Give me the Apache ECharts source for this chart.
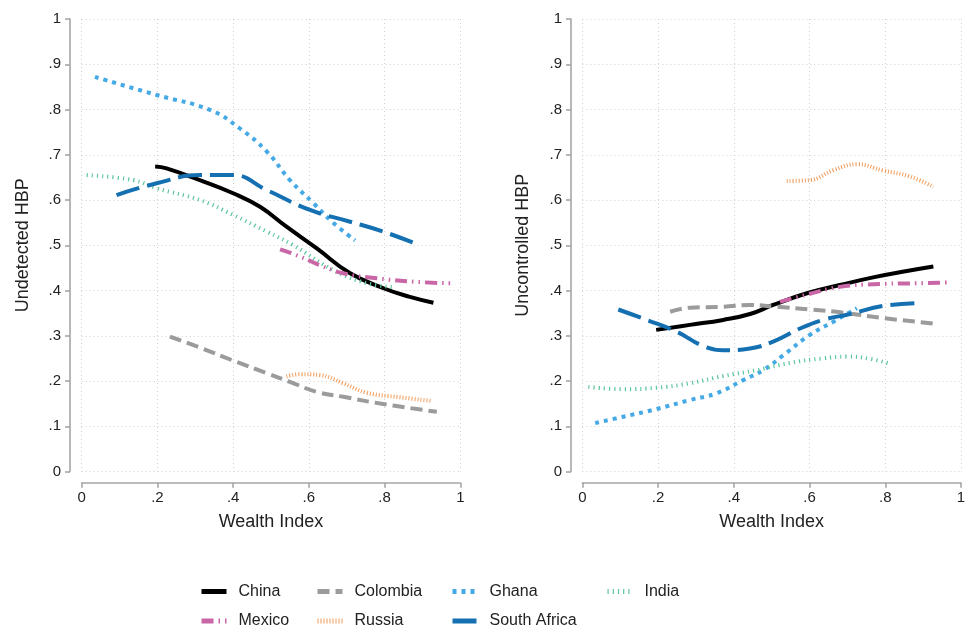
<!DOCTYPE html>
<html>
<head>
<meta charset="utf-8">
<script src="https://cdn.jsdelivr.net/npm/echarts@6/dist/echarts.min.js"></script>
<style>
  html, body { margin: 0; padding: 0; background: #fff; }
  #chart { width: 971px; height: 628px; }
</style>
</head>
<body>
<div id="chart"></div>
<script>
// Wealth index (x) vs. share with undetected / uncontrolled high blood pressure (y)
const countries = ['China', 'Colombia', 'Ghana', 'India', 'Mexico', 'Russia', 'South Africa'];
const xTicks = [0, 0.2, 0.4, 0.6, 0.8, 1];
const yTicks = [0, 0.1, 0.2, 0.3, 0.4, 0.5, 0.6, 0.7, 0.8, 0.9, 1];

// Panel 1: Undetected HBP
const chinaUndetected = [[0.194,0.674],[0.224,0.670],[0.312,0.644],[0.40,0.615],[0.471,0.585],[0.541,0.541],[0.621,0.493],[0.709,0.438],[0.797,0.405],[0.867,0.386],[0.929,0.373]];
const colombiaUndetected = [[0.233,0.298],[0.312,0.274],[0.40,0.245],[0.489,0.217],[0.55,0.198],[0.621,0.176],[0.691,0.165],[0.797,0.149],[0.938,0.132]];
const ghanaUndetected = [[0.035,0.872],[0.198,0.832],[0.339,0.799],[0.418,0.758],[0.489,0.707],[0.550,0.644],[0.612,0.593],[0.665,0.549],[0.722,0.511]];
const indiaUndetected = [[0.013,0.655],[0.136,0.644],[0.198,0.626],[0.312,0.600],[0.40,0.567],[0.489,0.530],[0.559,0.500],[0.665,0.445],[0.753,0.416],[0.819,0.408]];
const mexicoUndetected = [[0.524,0.491],[0.577,0.475],[0.629,0.456],[0.691,0.438],[0.779,0.427],[0.885,0.419],[0.977,0.416]];
const russiaUndetected = [[0.541,0.210],[0.577,0.215],[0.629,0.213],[0.691,0.195],[0.753,0.174],[0.841,0.164],[0.924,0.156]];
const southAfricaUndetected = [[0.092,0.611],[0.198,0.637],[0.312,0.655],[0.40,0.655],[0.489,0.622],[0.603,0.578],[0.709,0.552],[0.797,0.530],[0.893,0.500]];

// Panel 2: Uncontrolled HBP
const chinaUncontrolled = [[0.195,0.313],[0.284,0.324],[0.372,0.335],[0.443,0.348],[0.504,0.368],[0.593,0.394],[0.680,0.412],[0.768,0.429],[0.857,0.443],[0.927,0.453]];
const colombiaUncontrolled = [[0.232,0.353],[0.284,0.362],[0.372,0.364],[0.443,0.368],[0.513,0.364],[0.601,0.358],[0.689,0.351],[0.795,0.339],[0.940,0.326]];
const ghanaUncontrolled = [[0.034,0.107],[0.108,0.121],[0.196,0.138],[0.284,0.158],[0.355,0.173],[0.425,0.202],[0.478,0.224],[0.531,0.257],[0.601,0.302],[0.663,0.331],[0.725,0.361]];
const indiaUncontrolled = [[0.016,0.187],[0.108,0.182],[0.196,0.185],[0.284,0.195],[0.372,0.211],[0.461,0.224],[0.548,0.240],[0.636,0.250],[0.698,0.254],[0.760,0.249],[0.808,0.239]];
const mexicoUncontrolled = [[0.522,0.375],[0.593,0.391],[0.680,0.408],[0.768,0.414],[0.883,0.416],[0.975,0.418]];
const russiaUncontrolled = [[0.540,0.642],[0.601,0.644],[0.663,0.666],[0.725,0.679],[0.795,0.665],[0.865,0.652],[0.927,0.629]];
const southAfricaUncontrolled = [[0.095,0.358],[0.170,0.335],[0.249,0.309],[0.320,0.277],[0.372,0.268],[0.443,0.272],[0.504,0.287],[0.575,0.316],[0.636,0.335],[0.707,0.348],[0.795,0.366],[0.896,0.372]];

const panelData = [
  [chinaUndetected, colombiaUndetected, ghanaUndetected, indiaUndetected, mexicoUndetected, russiaUndetected, southAfricaUndetected],
  [chinaUncontrolled, colombiaUncontrolled, ghanaUncontrolled, indiaUncontrolled, mexicoUncontrolled, russiaUncontrolled, southAfricaUncontrolled]
];
const yTitles = ['Undetected HBP', 'Uncontrolled HBP'];

// Line look per country
const lineLook = {
  'China':        { color: '#000000', width: 4,   type: 'solid' },
  'Colombia':     { color: '#9b9b9b', width: 4,   type: [12, 6] },
  'Ghana':        { color: '#45a9e6', width: 4,   type: [4, 5] },
  'India':        { color: '#5cc69c', width: 4,   type: [1.2, 4] },
  'Mexico':       { color: '#c966a6', width: 4,   type: [12, 5, 1.5, 5, 1.5, 5] },
  'Russia':       { color: '#f09a58', width: 4,   type: [1, 2] },
  'South Africa': { color: '#1570b2', width: 4,   type: [24, 8] }
};

const FONT = 'Liberation Sans, Arial, Helvetica, sans-serif';
const fmt = v => {
  const r = Math.round(v * 10) / 10;
  if (r === 0) return '0';
  if (r === 1) return '1';
  return String(r).replace(/^0/, '');
};

const grids = [
  { left: 81.7, right: 510.7, top: 19, bottom: 156.5 },
  { left: 582.3, right: 10, top: 19, bottom: 156.5 }
];

const axisLineStyle = { color: '#a6a6a6', width: 1.6 };
const splitStyle = { show: true, lineStyle: { color: '#cfcfcf', type: [1, 3], width: 1 } };

const xAxes = grids.map((g, i) => ({
  type: 'value', gridIndex: i, min: xTicks[0], max: xTicks[xTicks.length - 1], interval: 0.2,
  offset: 11.2,
  name: 'Wealth Index', nameLocation: 'middle', nameGap: 30,
  nameTextStyle: { fontFamily: FONT, fontSize: 18, color: '#222' },
  axisLine: { show: true, onZero: false, lineStyle: axisLineStyle },
  axisTick: { show: true, length: 5, lineStyle: axisLineStyle },
  axisLabel: { formatter: fmt, fontFamily: FONT, fontSize: 15, color: '#222', margin: 8 },
  splitLine: splitStyle
}));

const yAxes = grids.map((g, i) => ({
  type: 'value', gridIndex: i, min: yTicks[0], max: yTicks[yTicks.length - 1], interval: 0.1,
  offset: i === 0 ? 11.7 : 11.3,
  name: yTitles[i], nameLocation: 'middle', nameGap: i === 0 ? 38 : 39,
  nameTextStyle: { fontFamily: FONT, fontSize: 18, color: '#222' },
  axisLine: { show: true, onZero: false, lineStyle: axisLineStyle },
  axisTick: { show: true, length: 5, lineStyle: axisLineStyle },
  axisLabel: { formatter: fmt, fontFamily: FONT, fontSize: 15, color: '#222', margin: 9 },
  splitLine: splitStyle
}));

const series = [];
panelData.forEach((sets, p) => {
  sets.forEach((pts, k) => {
    const name = countries[k];
    const lk = lineLook[name];
    series.push({
      name, type: 'line', xAxisIndex: p, yAxisIndex: p,
      data: pts, smooth: 0.45, showSymbol: false, symbol: 'none',
      lineStyle: { color: lk.color, width: lk.width, type: lk.type, cap: 'butt' },
      itemStyle: { color: lk.color },
      animation: false, silent: true, z: 3
    });
  });
});

// Legend laid out in four columns of two rows; the key shows only the line
const legendColumns = [['China', 'Mexico'], ['Colombia', 'Russia'], ['Ghana', 'South Africa'], ['India']];
const legendLefts = [199, 315, 450, 605];
const legends = legendColumns.map((names, c) => ({
  data: names, orient: 'vertical', left: legendLefts[c], top: 583.5,
  height: 80, padding: 0,
  itemWidth: 25, itemHeight: 14, itemGap: 13.5,
  selectedMode: false,
  itemStyle: { opacity: 0, borderWidth: 0 },
  lineStyle: { width: 5 },
  textStyle: { fontFamily: FONT, fontSize: 16, lineHeight: 14, color: '#222', padding: [0, 0, 0, 7] }
}));

const chart = echarts.init(document.getElementById('chart'), null, { renderer: 'canvas' });
chart.setOption({
  backgroundColor: '#ffffff',
  animation: false,
  grid: grids,
  xAxis: xAxes,
  yAxis: yAxes,
  legend: legends,
  series
});
</script>
</body>
</html>
